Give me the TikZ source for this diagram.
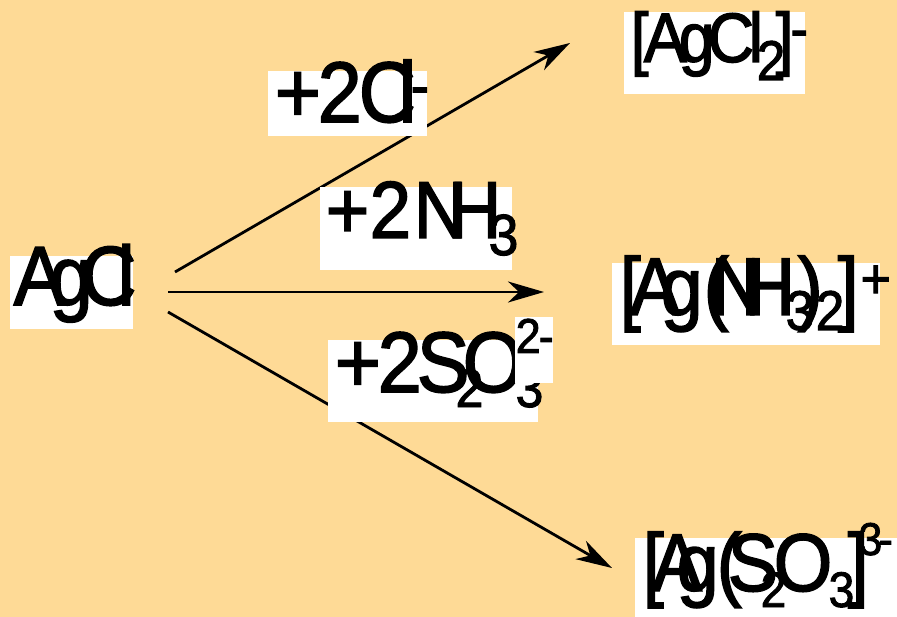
\documentclass[tikz,border=0pt]{standalone}
\usepackage{fontspec}
\setmainfont{Liberation Sans}[FakeStretch=0.92,FakeBold=1.8]
\usetikzlibrary{arrows.meta}
\definecolor{bgc}{RGB}{254,218,150}
\newcommand\gl[4]{\rlap{\hspace*{#1pt}\raisebox{#2pt}{\fontsize{#3}{#3}\selectfont #4}}}
\tikzset{
  wbox/.style={fill=white, draw=none, inner sep=0pt, anchor=north west},
  txt/.style={inner sep=0pt, anchor=base west},
  arr/.style={line width=2.8pt, -{Stealth[length=36pt,width=21pt,inset=11pt]}}
}
\begin{document}
\begin{tikzpicture}[x=1pt,y=-1pt]
\fill[bgc] (0,0) rectangle (897,617);
\useasboundingbox (0,0) rectangle (897,617);
% arrow end points
\coordinate (s1) at (175,272);
\coordinate (e1) at (570,43);
\coordinate (s2) at (168,292);
\coordinate (e2) at (544,292);
\coordinate (s3) at (168,312);
\coordinate (e3) at (612,568);
\draw[arr] (s1) -- (e1);
\draw[arr] (s2) -- (e2);
\draw[arr] (s3) -- (e3);
% white boxes
\node[wbox, minimum width=123pt, minimum height=73pt] (bAgCl) at (10,256) {};
\node[wbox, minimum width=181pt, minimum height=82pt] (bCl2) at (624,12) {};
\node[wbox, minimum width=268pt, minimum height=82pt] (bNH3) at (612,263) {};
\node[wbox, minimum width=262pt, minimum height=79pt] (bS2O3) at (635,538) {};
\node[wbox, minimum width=159pt, minimum height=65pt] (bpCl) at (268,71) {};
\node[wbox, minimum width=192pt, minimum height=83pt] (bpNH3) at (320,187) {};
\node[wbox, minimum width=210pt, minimum height=82pt] (bpS) at (328,340) {};
% texts
\node[txt] (tAgCl) at (13,305) {\gl{0}{0}{84}{A}\gl{36}{0}{84}{g}\gl{67}{0}{84}{C}\gl{104}{0}{84}{l}};
\node[txt] (tCl2) at (630,62) {\gl{0}{0}{70}{[}\gl{13}{0}{70}{A}\gl{48}{0}{70}{g}\gl{77}{0}{70}{C}\gl{118}{0}{70}{l}\gl{126}{-18}{56}{2}\gl{145}{0}{70}{]}\gl{160}{14}{56}{-}};
\node[txt] (tNH3) at (619,315) {\gl{0}{0}{82}{[}\gl{10}{0}{82}{A}\gl{41}{0}{82}{g}\gl{84}{0}{82}{(}\gl{91}{0}{82}{N}\gl{121}{0}{82}{H}\gl{166}{-15}{56}{3}\gl{178}{0}{82}{)}\gl{196}{-15}{56}{2}\gl{218}{0}{82}{]}\gl{241}{17}{56}{+}};
\node[txt] (tS2O3) at (642,591) {\gl{0}{0}{82}{[}\gl{9}{0}{82}{A}\gl{34}{0}{82}{g}\gl{74}{0}{82}{(}\gl{85}{0}{82}{S}\gl{118}{-16}{50}{2}\gl{131}{0}{82}{O}\gl{186}{-16}{50}{3}\gl{205}{0}{82}{]}\gl{216}{36}{46}{3}\gl{236}{36}{46}{-}};
\node[txt] (tpCl) at (274,122) {\gl{0}{0}{86}{+}\gl{43}{0}{86}{2}\gl{84}{0}{86}{C}\gl{124}{0}{86}{l}\gl{136}{16}{60}{-}};
\node[txt] (tpNH3) at (325,238) {\gl{0}{0}{81}{+}\gl{44}{0}{81}{2}\gl{88}{0}{81}{N}\gl{122}{0}{81}{H}\gl{163}{-17}{58}{3}};
\node[txt] (tpS) at (334,392) {\gl{0}{0}{86}{+}\gl{43}{0}{86}{2}\gl{82}{0}{86}{S}\gl{121}{-15}{54}{2}\gl{128}{0}{86}{O}\gl{181}{-15}{54}{3}};
\node[wbox, minimum width=38pt, minimum height=66pt] (bpSsup) at (515,317) {};
\node[txt] (tpSsup) at (515,353) {\gl{0}{0}{49}{2}\gl{23}{0}{49}{-}};
\end{tikzpicture}
\end{document}
